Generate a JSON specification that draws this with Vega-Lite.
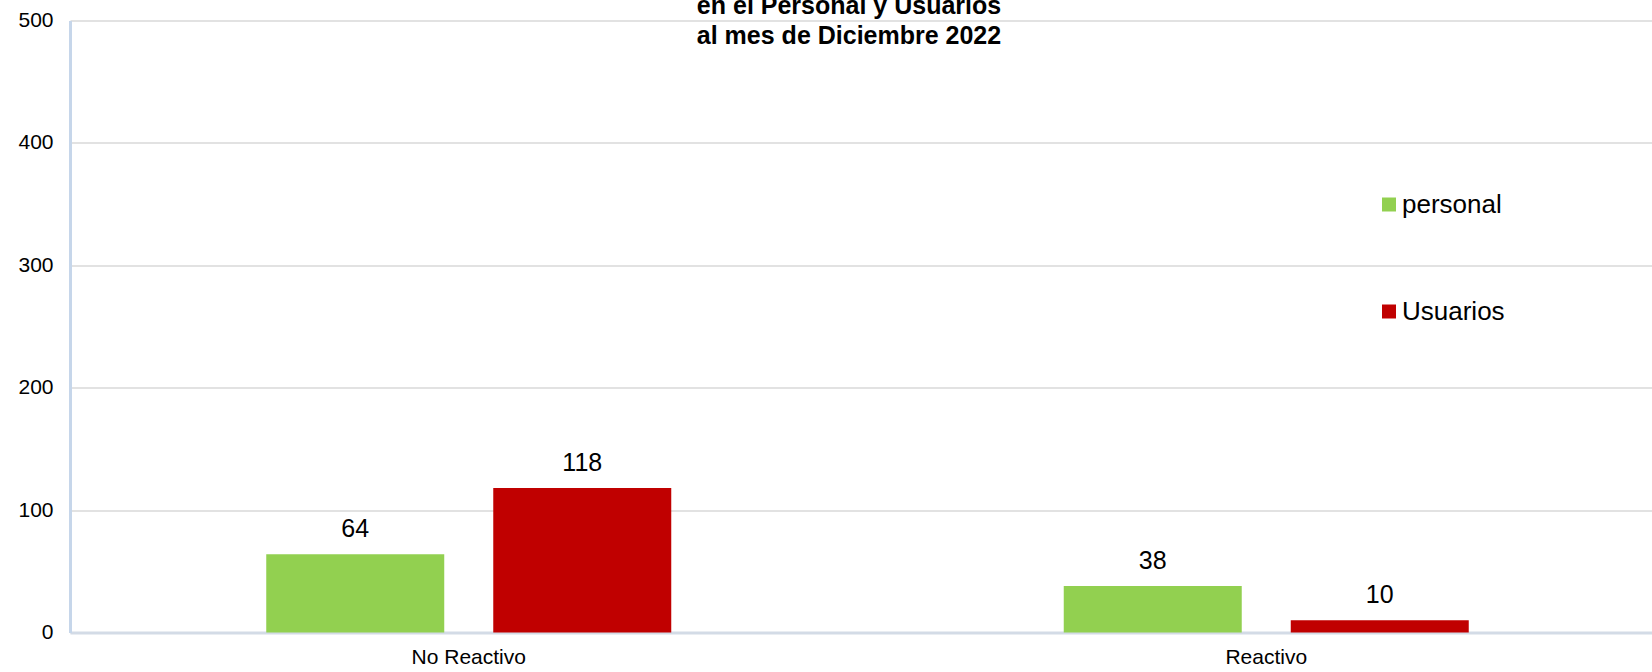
{
  "$schema": "https://vega.github.io/schema/vega-lite/v6.json",
  "autosize": "none",
  "width": 1582,
  "height": 612,
  "padding": {"left": 70, "top": 20.5, "right": 0, "bottom": 39.5},
  "background": "white",
  "config": {
    "font": "Liberation Sans",
    "view": {"stroke": null},
    "axis": {"labelFont": "Liberation Sans", "labelColor": "#000000"}
  },
  "title": {
    "text": ["en el Personal y Usuarios", "al mes de Diciembre 2022"],
    "fontSize": 25,
    "fontWeight": "bold",
    "color": "#000000",
    "lineHeight": 30,
    "anchor": "middle",
    "dx": -12,
    "offset": -39
  },
  "data": {
    "values": [
      {"cat": "No Reactivo", "serie": "personal", "value": 64},
      {"cat": "No Reactivo", "serie": "Usuarios", "value": 118},
      {"cat": "Reactivo", "serie": "personal", "value": 38},
      {"cat": "Reactivo", "serie": "Usuarios", "value": 10}
    ]
  },
  "encoding": {
    "x": {
      "field": "cat",
      "type": "nominal",
      "scale": {"paddingInner": 0, "paddingOuter": 0, "range": [0, 1595]},
      "axis": {
        "title": null,
        "labelAngle": 0,
        "labelFontSize": 21,
        "ticks": false,
        "labelPadding": 14,
        "domainColor": "#d3dbe6",
        "domainWidth": 3
      }
    },
    "xOffset": {
      "field": "serie",
      "type": "nominal",
      "sort": ["personal", "Usuarios"],
      "scale": {"paddingInner": 0.2159, "paddingOuter": 0.8645}
    },
    "y": {
      "field": "value",
      "type": "quantitative",
      "scale": {"domain": [0, 500], "nice": false},
      "axis": {
        "title": null,
        "values": [0, 100, 200, 300, 400, 500],
        "labelFontSize": 21,
        "ticks": false,
        "labelPadding": 17,
        "domainColor": "#c6d6ea",
        "domainWidth": 3,
        "gridColor": "#d9d9d9",
        "gridWidth": 1.5
      }
    }
  },
  "layer": [
    {
      "mark": {"type": "bar"},
      "encoding": {
        "color": {
          "field": "serie",
          "type": "nominal",
          "sort": ["personal", "Usuarios"],
          "scale": {"domain": ["personal", "Usuarios"], "range": ["#92d050", "#c00000"]},
          "legend": {
            "title": null,
            "orient": "none",
            "legendX": 1306,
            "legendY": 171,
            "symbolType": "square",
            "symbolSize": 196,
            "symbolStrokeWidth": 0,
            "labelFontSize": 26,
            "labelColor": "#000000",
            "labelOffset": 0,
            "rowPadding": 81
          }
        }
      }
    },
    {
      "mark": {"type": "text", "baseline": "alphabetic", "dy": -17, "fontSize": 25, "color": "#000000"},
      "encoding": {
        "text": {"field": "value", "type": "quantitative"}
      }
    }
  ]
}
